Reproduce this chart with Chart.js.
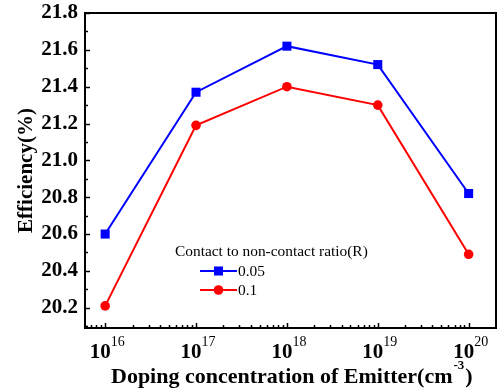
<!DOCTYPE html>
<html><head><meta charset="utf-8">
<script src="https://cdn.jsdelivr.net/npm/chart.js@4/dist/chart.umd.min.js"></script>
<style>html,body{margin:0;padding:0;background:#fff}#wrap{width:497px;height:390px}</style>
</head><body><div id="wrap"><canvas id="c" width="497" height="390"></canvas></div>
<script>
const categories = [1e16, 1e17, 1e18, 1e19, 1e20];
const seriesR005 = [20.60, 21.37, 21.62, 21.52, 20.82];
const seriesR01 = [20.21, 21.19, 21.40, 21.30, 20.49];
const seriesLabels = ['0.05', '0.1'];
const legendTitle = 'Contact to non-contact ratio(R)';
const yTicks = [20.2, 20.4, 20.6, 20.8, 21.0, 21.2, 21.4, 21.6, 21.8];
const yMinorStep = 0.1;
const xMajorExps = [16, 17, 18, 19, 20];
const xTitle = 'Doping concentration of Emitter(cm';
const xTitleSup = '-3';
const xTitleEnd = ')';
const yTitle = 'Efficiency(%)';

const SERIF = '"Liberation Serif", "Times New Roman", serif';

const overlay = {
  id: 'overlay',
  afterDraw(chart) {
    const ctx = chart.ctx, a = chart.chartArea;
    const xs = chart.scales.x, ys = chart.scales.y;
    ctx.save();
    ctx.strokeStyle = '#000'; ctx.lineWidth = 2;
    ctx.strokeRect(a.left, a.top, a.right - a.left, a.bottom - a.top);
    ctx.lineWidth = 1.5;
    const yMinor = [];
    for (let k = Math.ceil(ys.min / yMinorStep - 1e-9); k * yMinorStep <= ys.max + 1e-9; k++) yMinor.push(k * yMinorStep);
    yMinor.forEach(v => {
      const y = Math.round(ys.getPixelForValue(v)) + 0.5;
      const major = yTicks.some(t => Math.abs(t - v) < 1e-6);
      ctx.beginPath(); ctx.moveTo(a.left, y); ctx.lineTo(a.left + (major ? 5 : 3), y); ctx.stroke();
    });
    xs.ticks.forEach(t => {
      const x = Math.round(xs.getPixelForValue(t.value)) + 0.5;
      const major = Math.abs(Math.log10(t.value) - Math.round(Math.log10(t.value))) < 1e-9;
      ctx.beginPath(); ctx.moveTo(x, a.bottom); ctx.lineTo(x, a.bottom - (major ? 5 : 3)); ctx.stroke();
    });
    ctx.fillStyle = '#000'; ctx.textBaseline = 'alphabetic'; ctx.textAlign = 'left';
    xMajorExps.forEach(e => {
      const x = xs.getPixelForValue(Math.pow(10, e));
      ctx.font = 'bold 21px ' + SERIF;
      const w1 = ctx.measureText('10').width;
      ctx.font = '14px ' + SERIF;
      const w2 = ctx.measureText(String(e)).width;
      const x0 = x - (w1 + w2) / 2 + 2;
      ctx.font = 'bold 21px ' + SERIF;
      ctx.fillText('10', x0, 358);
      ctx.font = '14px ' + SERIF;
      ctx.fillText(String(e), x0 + w1, 346);
    });
    ctx.font = 'bold 22px ' + SERIF;
    const wA = ctx.measureText(xTitle).width;
    ctx.font = 'bold 13px ' + SERIF;
    const wB = ctx.measureText(xTitleSup).width;
    const tx = 111;
    ctx.font = 'bold 22px ' + SERIF;
    ctx.fillText(xTitle, tx, 383);
    ctx.font = 'bold 13px ' + SERIF;
    ctx.fillText(xTitleSup, tx + wA + 1, 369);
    ctx.font = 'bold 22px ' + SERIF;
    ctx.fillText(xTitleEnd, tx + wA + wB + 2, 383);
    ctx.font = '15.4px ' + SERIF; ctx.textBaseline = 'middle';
    ctx.fillText(legendTitle, 175, 252);
    chart.data.datasets.forEach((ds, i) => {
      const ly = 271 + i * 19;
      ctx.strokeStyle = ds.borderColor; ctx.lineWidth = 2;
      ctx.beginPath(); ctx.moveTo(200, ly); ctx.lineTo(237, ly); ctx.stroke();
      ctx.fillStyle = ds.backgroundColor;
      Chart.helpers.drawPoint(ctx, {pointStyle: ds.pointStyle, radius: ds.pointRadius, borderWidth: 0, rotation: 0}, 218.5, ly);
      ctx.fillStyle = '#000';
      ctx.fillText(ds.label, 238, ly + 1);
    });
    ctx.restore();
  }
};

function zeroPad(s) { s.paddingLeft = 0; s.paddingRight = 0; s.paddingTop = 0; s.paddingBottom = 0; }

new Chart(document.getElementById('c'), {
  type: 'line',
  data: {
    datasets: [
      { label: seriesLabels[0], data: categories.map((x, i) => ({x, y: seriesR005[i]})),
        borderColor: '#0000ff', backgroundColor: '#0000ff', borderWidth: 2,
        pointStyle: 'rect', pointRadius: 6.4, pointBorderWidth: 0, pointBackgroundColor: '#0000ff' },
      { label: seriesLabels[1], data: categories.map((x, i) => ({x, y: seriesR01[i]})),
        borderColor: '#ff0000', backgroundColor: '#ff0000', borderWidth: 2,
        pointStyle: 'circle', pointRadius: 4.8, pointBorderWidth: 0, pointBackgroundColor: '#ff0000' }
    ]
  },
  options: {
    responsive: false, animation: false, devicePixelRatio: 1,
    layout: { autoPadding: false, padding: { top: 13, right: 1, bottom: 62, left: 0 } },
    plugins: { legend: { display: false }, tooltip: { enabled: false } },
    scales: {
      x: {
        type: 'logarithmic', min: 6e15, max: 2e20,
        afterBuildTicks(s) {
          const t = [];
          for (let e = 15; e <= 20; e++) for (let k = 1; k <= 9; k++) {
            const v = k * Math.pow(10, e);
            if (v >= s.min && v <= s.max) t.push({value: v});
          }
          s.ticks = t;
        },
        afterFit(s) { s.height = 0; zeroPad(s); },
        ticks: { display: false },
        grid: { display: false, drawTicks: false },
        border: { display: false }
      },
      y: {
        min: 20.09, max: 21.8,
        afterBuildTicks(s) { s.ticks = yTicks.map(v => ({value: v})); },
        afterFit(s) { s.width = 85; zeroPad(s); },
        ticks: { color: '#000', font: { family: SERIF, size: 21, weight: 'bold' }, padding: 7,
                 callback: v => Number(v).toFixed(1) },
        grid: { display: false, drawTicks: false },
        border: { display: false },
        title: { display: true, text: yTitle, color: '#000', font: { family: SERIF, size: 21, weight: 'bold' }, padding: { top: 14, bottom: 0 } }
      }
    }
  },
  plugins: [overlay]
});
</script></body></html>
